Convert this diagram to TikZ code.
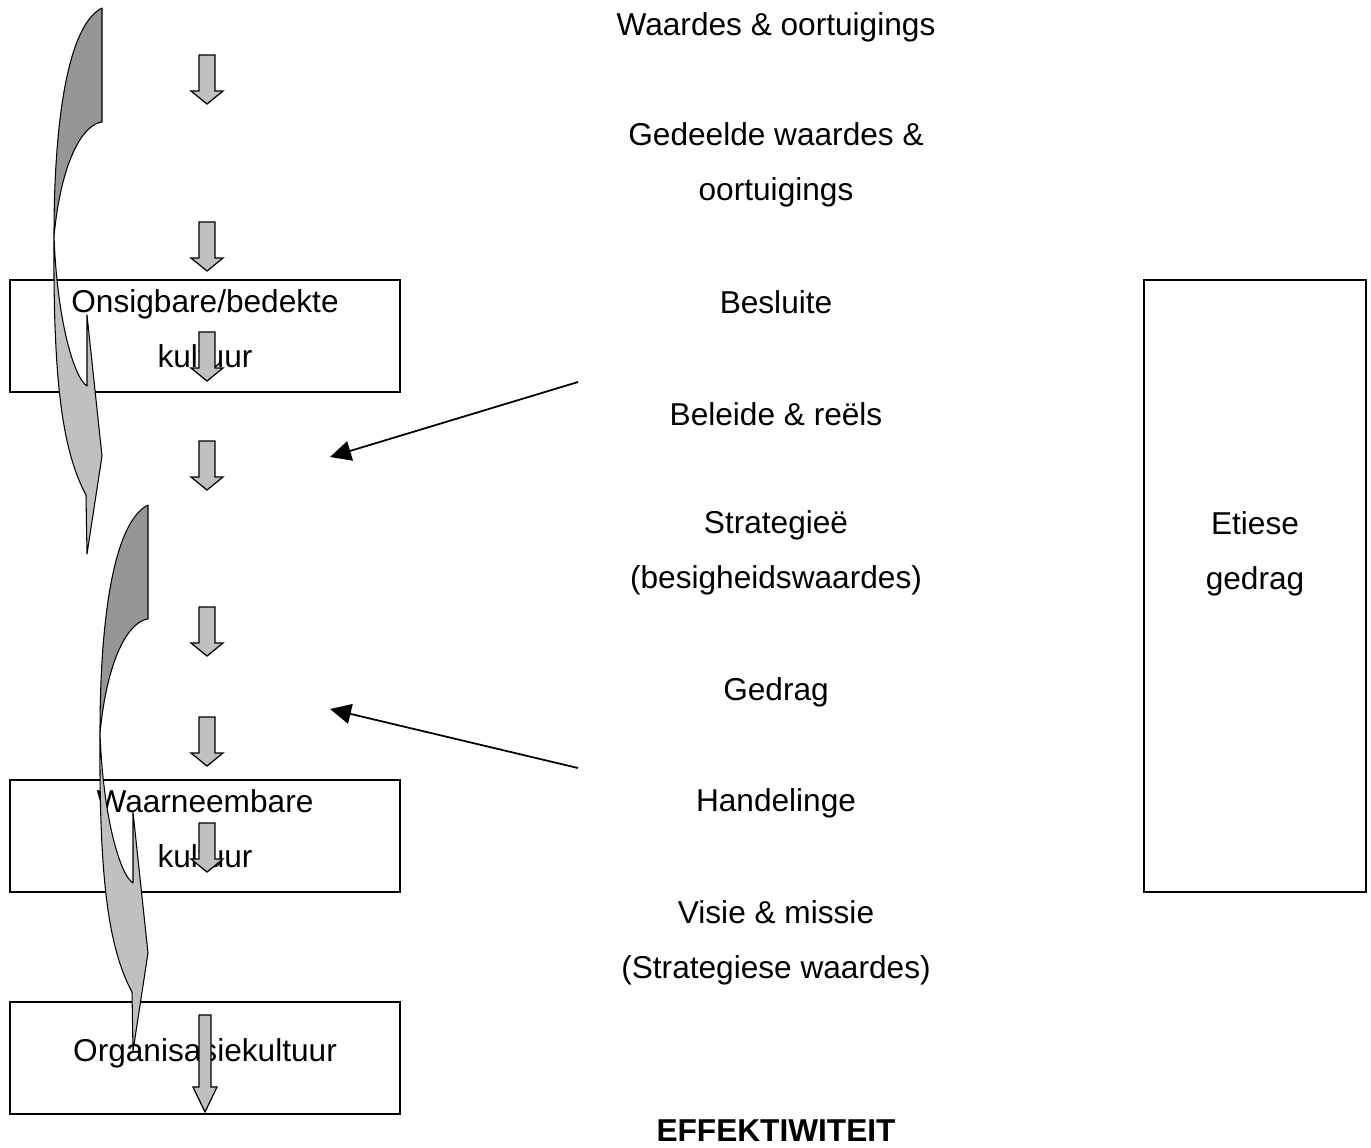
\documentclass[tikz,border=0pt]{standalone}
\usepackage{fontspec}
\setmainfont{Liberation Sans}
\definecolor{cultDark}{HTML}{969696}
\definecolor{cultLight}{HTML}{C0C0C0}
\usetikzlibrary{arrows.meta}

\begin{document}
\begin{tikzpicture}[x=0.02cm, y=-0.02cm,
    lbl/.style={font=\fontsize{18}{31}\selectfont, align=center, inner sep=0pt},
    kbox/.style={lbl, draw, line width=1.1pt, minimum width=7.8cm, minimum height=2.24cm, text depth=0.3cm},
    blockarrow/.style={draw, fill=cultLight, line width=0.7pt, line join=miter},
    twist/.style={draw, line width=0.6pt, line join=round}]
  \useasboundingbox (0,0) rectangle (1371,1147);

  % Culture boxes
  \node[kbox] (onsigbaar) at (205,336) {Onsigbare/bedekte\\kultuur};
  \node[kbox] (waarneem) at (205,836) {Waarneembare\\kultuur};
  \node[kbox] (organisasie) at (205,1058) {Organisasiekultuur};

  % Ethics box
  \node[draw, line width=1.1pt, minimum width=4.44cm, minimum height=12.24cm] (etiesebox) at (1255,586) {};
  \node[lbl] (etiese) at (1255,554) {Etiese\\gedrag};

  % Middle column
  \node[lbl] (waardes) at (776,27) {Waardes \& oortuigings};
  \node[lbl] (gedeeld) at (776,165) {Gedeelde waardes \&\\oortuigings};
  \node[lbl] (besluite) at (776,302) {Besluite};
  \node[lbl] (beleide) at (776,414) {Beleide \& reëls};
  \node[lbl] (strategie) at (776,553) {Strategieë\\(besigheidswaardes)};
  \node[lbl] (gedrag) at (776,692) {Gedrag};
  \node[lbl] (handelinge) at (776,803) {Handelinge};
  \node[lbl] (visie) at (776,943) {Visie \& missie\\(Strategiese waardes)};
  \node[lbl, font=\fontsize{18}{31}\selectfont\bfseries] (effek) at (776,1131) {EFFEKTIWITEIT};

  % Pointer arrows
  \coordinate (beleidvan) at (578,382);
  \coordinate (beleidna) at (330,457);
  \coordinate (handelvan) at (578,768);
  \coordinate (handelna) at (330,709);
  \draw[line width=1pt, -{Triangle[length=0.42cm, width=0.4cm]}] (beleidvan) -- (beleidna);
  \draw[line width=1pt, -{Triangle[length=0.42cm, width=0.4cm]}] (handelvan) -- (handelna);

  % Curved arrows
  \foreach \dx/\dy in {0/0, 46/497} {
    \begin{scope}[shift={(\dx,\dy)}]
      \filldraw[twist, fill=cultDark] (102,8) -- (102,122)
        .. controls (85,124) and (62,155) .. (54,236)
        .. controls (54,120) and (68,25) .. (102,8) -- cycle;
      \filldraw[twist, fill=cultLight] (54,236)
        .. controls (53,380) and (62,450) .. (86,495)
        -- (87,554) -- (102,456) -- (87,315) -- (87,386)
        .. controls (74,378) and (57,320) .. (54,236) -- cycle;
    \end{scope}
  }

  % Small down arrows
  \foreach \t in {55,222,332,441,607,717,823}
    \filldraw[blockarrow] (199,\t) -- (215,\t) -- (215,\t+36) -- (223,\t+36)
      -- (207,\t+49) -- (191,\t+36) -- (199,\t+36) -- cycle;
  \filldraw[blockarrow] (199,1015) -- (211,1015) -- (211,1087) -- (217,1087)
    -- (205,1112) -- (193,1087) -- (199,1087) -- cycle;
\end{tikzpicture}
\end{document}
